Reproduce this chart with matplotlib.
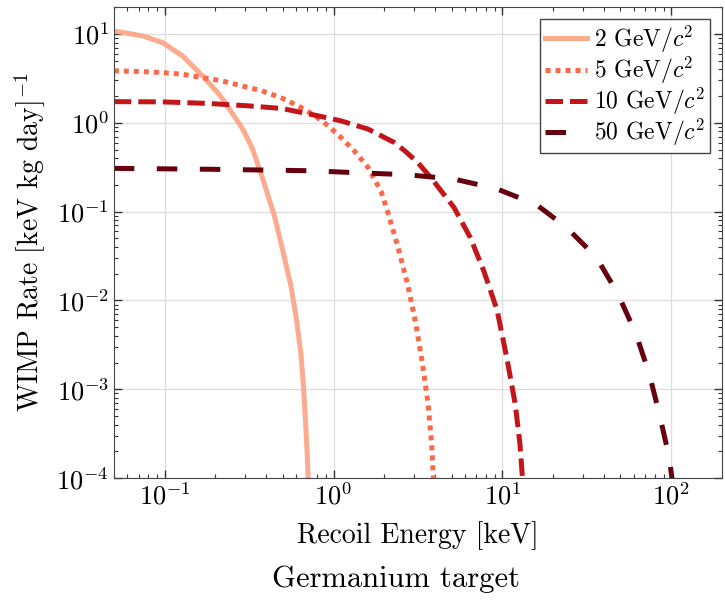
import matplotlib
matplotlib.use('Agg')
import matplotlib.pyplot as plt
from matplotlib.ticker import LogLocator, NullFormatter

plt.rcParams['font.family'] = 'serif'
plt.rcParams['font.serif'] = ['cmr10', 'DejaVu Serif']
plt.rcParams['mathtext.fontset'] = 'cm'
plt.rcParams['axes.formatter.use_mathtext'] = True
plt.rcParams['axes.unicode_minus'] = True

# recoil energy [keV] and rate
e_2 = [0.05, 0.074, 0.097, 0.127, 0.167, 0.21, 0.25, 0.29, 0.33, 0.385, 0.45,
       0.505, 0.56, 0.604, 0.641, 0.664, 0.682, 0.698, 0.708]
r_2 = [10.8, 9.5, 8.0, 5.7, 3.4, 2.1, 1.3, 0.85, 0.52, 0.22, 0.085,
       0.034, 0.0145, 6e-3, 2.5e-3, 1.06e-3, 4.5e-4, 1.9e-4, 1e-4]

e_5 = [0.05, 0.074, 0.097, 0.127, 0.167, 0.219, 0.287, 0.376, 0.493, 0.618,
       0.775, 0.93, 1.11, 1.33, 1.6, 1.91, 2.09, 2.39, 2.74, 3.07, 3.36, 3.63,
       3.81, 3.9]
r_5 = [3.84, 3.77, 3.67, 3.52, 3.23, 2.96, 2.6, 2.29, 1.9, 1.55,
       1.2, 0.925, 0.68, 0.48, 0.315, 0.17, 0.1, 0.042, 0.0155, 5.5e-3,
       1.95e-3, 6.9e-4, 2.45e-4, 1e-4]

e_10 = [0.05, 0.097, 0.183, 0.315, 0.493, 0.775, 1.11, 1.6, 2.29, 2.62, 3.14,
        3.76, 5.16, 6.46, 7.74, 9.3, 10.6, 11.9, 12.7, 13.15]
r_10 = [1.73, 1.72, 1.65, 1.55, 1.45, 1.22, 1.05, 0.85, 0.6, 0.49, 0.36,
        0.243, 0.112, 0.051, 0.0218, 7.8e-3, 2.3e-3, 6.9e-4, 2.45e-4, 1e-4]

e_50 = [0.05, 0.183, 0.71, 2.74, 5.16, 9.3, 15.9, 23.9, 35.9, 48.3, 61.8, 74,
        84.8, 97, 101]
r_50 = [0.307, 0.30, 0.289, 0.26, 0.233, 0.18, 0.12, 0.0667, 0.0309, 0.0119,
        4.2e-3, 1.5e-3, 5.4e-4, 1.75e-4, 1e-4]

labels = [r'2 GeV/$c^2$', r'5 GeV/$c^2$', r'10 GeV/$c^2$', r'50 GeV/$c^2$']

cmap = plt.get_cmap('Reds')
fig = plt.figure(figsize=(7.25, 6), dpi=100)
ax = fig.add_axes([0.157, 0.203, 0.839, 0.785])

lw = 3.6
ax.plot(e_2, r_2, '-', color=cmap(0.3), lw=lw, label=labels[0])
ax.plot(e_5, r_5, color=cmap(0.5), lw=lw, ls=(0, (1, 1)), label=labels[1])
ax.plot(e_10, r_10, color=cmap(0.78), lw=lw, ls=(0, (3.5, 1.4)), label=labels[2])
ax.plot(e_50, r_50, color=cmap(1.0), lw=lw, ls=(0, (4.1, 4.5)), label=labels[3])

ax.set_xscale('log')
ax.set_yscale('log')
ax.set_xlim(0.05, 200)
ax.set_ylim(1e-4, 20)
ax.yaxis.set_minor_locator(LogLocator(base=10, subs=range(2, 10), numticks=20))
ax.yaxis.set_minor_formatter(NullFormatter())
ax.tick_params(which='both', direction='in', top=True, right=True,
               labelsize=19, color='#333333')
ax.tick_params(which='major', length=6, width=1)
ax.tick_params(which='minor', length=3, width=0.8)
ax.grid(True, which='major', color='#dddddd', lw=0.9)
for s in ax.spines.values():
    s.set_color('#444444')

ax.set_xlabel('Recoil Energy [keV]', fontsize=20, labelpad=8)
ax.set_ylabel(r'WIMP Rate [keV kg day]$^{-1}$', fontsize=20, labelpad=6)

leg = ax.legend(loc='upper right', fontsize=17, fancybox=False, framealpha=1,
                edgecolor='#444444', handlelength=1.8, handletextpad=0.3,
                borderaxespad=0.5, labelspacing=0.0, borderpad=0.2)
leg.get_frame().set_linewidth(1.0)

fig.text(0.546, 0.035, 'Germanium target', fontsize=22, ha='center', va='center')

fig.savefig('out.png', dpi=100)
